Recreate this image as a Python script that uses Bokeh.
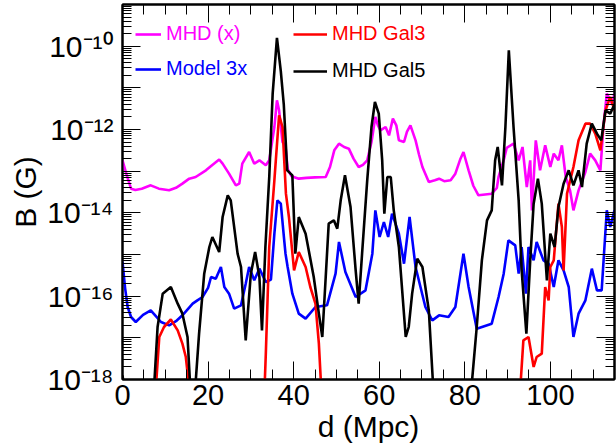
from bokeh.plotting import figure
from bokeh.models import Range1d, FixedTicker, LinearAxis, LogAxis, Legend, LegendItem
from bokeh.embed import file_html
from bokeh.resources import INLINE

FONT = "Liberation Sans"

# ---------------- data (d in Mpc, values are log10 of B in Gauss) ----------------
mhd_x_d = [0, 1, 2, 3, 4.5, 6.6, 8.5, 10.9, 12.5, 14, 15.6, 17.1, 19.5, 21, 22.6, 23.4, 24.9,
           26.5, 27.3, 28, 29.6, 30.8, 32, 33.5, 34.3, 35.5, 36.1, 36.6, 37.4, 38.1, 38.6,
           39.5, 41.2, 43, 45, 47.5, 48.5, 49.5, 50.6, 51.8, 52.9, 54, 55.2, 56.2, 57.2, 58.2,
           59.1, 59.7, 60.3, 61.5, 62.3, 63.2, 64, 64.6, 65.8, 66.5, 67.3, 68.5, 69.3, 70.1,
           71.6, 73, 74, 75.2, 76.7, 77.8, 79, 79.7, 80.9, 82, 83.2, 86.3, 87.5, 87.9, 89.2,
           89.8, 91.4, 92.6, 93.5, 94.5, 95.3, 95.7, 96.6, 97.6, 98.8, 100, 100.8, 101.9,
           102.7, 103.6, 104.6, 105.4, 106.6, 108.2, 109.3, 110.5, 111.7, 112.4, 113.2,
           114.4, 115]
mhd_x_logB = [-12.74, -13.1, -13.42, -13.45, -13.42, -13.34, -13.42, -13.46, -13.40, -13.3,
              -13.18, -13.14, -12.98, -12.85, -12.72, -12.82, -13.06, -13.34, -13.30, -12.82,
              -12.54, -12.82, -12.74, -12.86, -12.74, -11.94, -11.3, -11.54, -12.3, -12.4,
              -12.95, -13.12, -13.18, -13.16, -13.15, -13.14, -12.9, -12.5, -12.34, -12.42,
              -12.46, -12.7, -12.9, -12.85, -12.74, -12.3, -11.7, -11.9, -12.02, -11.94,
              -12.14, -11.74, -11.9, -12.26, -12.3, -12.05, -11.9, -12.26, -12.6, -12.9,
              -13.26, -13.22, -13.18, -13.24, -13.22, -13.06, -12.7, -12.54, -12.98, -13.35,
              -13.58, -13.54, -13.4, -13.14, -12.7, -12.44, -12.34, -12.74, -12.42, -13.38,
              -12.74, -13.94, -12.26, -12.98, -12.38, -12.9, -12.58, -12.74, -12.38, -13.14,
              -13.46, -13.94, -13.46, -13.02, -12.58, -12.74, -12.98, -11.94, -11.14, -11.38,
              -11.14]

model3x_d = [0, 0.6, 1.2, 2, 3.1, 4.8, 6.6, 7.8, 9, 10.9, 12.5, 14, 16.4, 17.5, 18.7, 20,
             20.7, 21.8, 23, 23.8, 24.9, 26.1, 27.7, 28.8, 29.6, 30.8, 32, 33.5, 34.7, 35.5,
             36.2, 37, 37.8, 38.1, 38.6, 39.7, 41.2, 42.8, 45.1, 47.8, 49.8, 50.6, 52.1,
             54.5, 56.8, 58.4, 59.1, 60.1, 61.1, 62.1, 63, 64.6, 65.8, 67.1, 68.5, 70.8,
             72.4, 74, 76.2, 77.8, 79.7, 80.9, 82.8, 86.3, 87.9, 89.1, 90.2, 91.8, 92.6,
             93.3, 94.3, 94.9, 96.1, 96.8, 98.4, 99.6, 100.8, 101.9, 103.1, 104.3, 105.4,
             106.6, 108.2, 109.7, 110.9, 112, 113.2, 114, 115]
model3x_logB = [-15.18, -15.8, -16.26, -16.5, -16.62, -16.45, -16.34, -16.48, -16.62, -16.7,
                -16.6, -16.46, -16.18, -16.1, -16.02, -15.8, -15.54, -15.58, -15.3, -15.78,
                -15.94, -16.3, -16.22, -15.7, -15.3, -15.62, -15.34, -15.66, -15.6, -14.5,
                -13.7, -13.78, -14.66, -14.98, -15.3, -15.94, -16.42, -16.54, -16.26, -16.22,
                -15.46, -14.7, -15.42, -16.02, -15.86, -14.98, -13.94, -14.58, -14.22, -14.58,
                -14.02, -14.5, -15.22, -14.1, -15.3, -16.26, -16.58, -16.46, -16.5, -16.26,
                -14.98, -15.78, -16.78, -16.66, -16.02, -15.46, -14.66, -14.78, -15.46, -14.82,
                -15.94, -14.82, -15.14, -14.7, -15.14, -15.22, -15.78, -15.14, -15.38, -15.78,
                -16.98, -16.42, -16.1, -15.34, -15.86, -15.86, -13.94, -14.34, -13.94]

gal3_d = [7.6, 8.6, 9.7, 11.3, 12.9, 14, 14.8, 15.9, 33.1, 33.5, 34.3, 35.5, 36.6, 37.4,
          38.2, 38.9, 40.1, 41.2, 42.8, 43.9, 45.1, 45.9, 46.6, 92.8, 93.7, 94.9, 96.1,
          96.8, 98, 98.8, 99.6, 100, 100.8, 101.9, 102.7, 103.1, 103.9, 105.4, 106.6,
          108.2, 109.3, 110.5, 111.7, 112.9, 114, 115]
gal3_logB = [-18.5, -16.98, -16.74, -16.56, -16.82, -17.14, -17.46, -18.5, -18.5, -17.38,
             -14.82, -13.22, -11.66, -11.94, -13.54, -14.1, -15.38, -14.94, -15.3, -15.78,
             -16.18, -17.14, -18.5, -18.5, -17.06, -16.98, -17.7, -17.46, -17.38, -15.78,
             -16.1, -15.3, -15.14, -13.78, -14.34, -15.38, -13.54, -12.9, -12.26, -11.86,
             -11.86, -12.1, -12.5, -11.54, -11.22, -11.54]

gal5_d = [0, 0.8, 7.2, 8.2, 9.4, 11.3, 12.9, 14, 15.2, 16.0, 16.8, 17.9, 19.1, 20.3, 21,
          22.6, 23.4, 24.6, 25.3, 26.9, 27.7, 28.8, 30, 31, 32, 32.6, 33.4, 34.3, 35.1,
          36.1, 37.0, 37.7, 38.5, 39.7, 40.4, 41.2, 42.8, 44.7, 45.9, 46.7, 47.5, 48.2,
          49.4, 50.2, 51, 52, 53.3, 54.5, 55.2, 56, 57.2, 58.2, 59, 59.9, 60.7, 61.2, 61.9,
          62.7, 63.4, 64.6, 66.2, 66.9, 67.7, 68.9, 70.1, 71.6, 72.8, 81.3, 82.8, 84, 85.2,
          86.3, 87.1, 87.7, 88.7, 89.5, 90.3, 91.4, 92.6, 93.3, 94.4, 95.3, 96.1, 97.1, 98,
          99.2, 100, 101, 101.9, 103.1, 104.3, 105.4, 106.6, 107.4, 108.5, 109.7, 110.9,
          111.9, 112.9, 114, 115]
gal5_logB = [-17.9, -18.5, -18.5, -16.74, -15.94, -15.78, -16.18, -16.42, -16.98, -18.5,
             -18.5, -16.9, -15.46, -14.82, -14.58, -14.94, -14.1, -13.58, -13.7, -14.98,
             -15.3, -17.06, -15.46, -14.94, -15.54, -16.82, -14.82, -13.14, -11.14, -9.8,
             -10.6, -11.4, -12.98, -13.1, -14.98, -14.1, -14.5, -15.54, -16.42, -16.98,
             -15.54, -14.26, -14.18, -14.38, -13.7, -13.1, -13.86, -15.38, -16.18, -14.98,
             -13.22, -11.94, -11.34, -11.62, -12.74, -14.02, -13.14, -13.14, -13.94, -14.82,
             -16.98, -16.74, -15.94, -15.1, -15.3, -16.34, -18.5, -18.5, -16.74, -15.14,
             -14.18, -13.94, -12.74, -12.42, -13.34, -11.94, -10.1, -11.94, -13.7, -15.38,
             -16.9, -15.14, -13.78, -13.18, -13.78, -15.62, -14.5, -14.82, -13.86, -13.3,
             -12.98, -13.34, -12.98, -13.38, -12.34, -11.86, -12.1, -12.26, -11.54, -11.62,
             -11.4]

series_names = ["MHD (x)", "Model 3x", "MHD Gal3", "MHD Gal5"]
series_colors = ["#ff00ff", "#0000ff", "#ff0000", "#000000"]

x_major = [0, 20, 40, 60, 80, 100]
x_minor = [5, 10, 15, 25, 30, 35, 45, 50, 55, 65, 70, 75, 85, 90, 95, 105, 110, 115]
y_decades = [1e-18, 1e-17, 1e-16, 1e-15, 1e-14, 1e-13, 1e-12, 1e-11, 1e-10, 1e-9]
y_labels = ["10⁻¹⁸", "", "10⁻¹⁶", "", "10⁻¹⁴", "", "10⁻¹²", "", "10⁻¹⁰", ""]
y_minor = [m * d for d in y_decades[:-1] for m in (2, 3, 4, 5, 6, 7, 8, 9)]


def to_B(logs):
    return [10.0 ** v for v in logs]


p = figure(width=616, height=448, x_range=Range1d(0, 115), y_range=Range1d(1e-18, 1e-9),
           y_axis_type="log", output_backend="svg", toolbar_location=None,
           min_border_left=122, min_border_right=2, min_border_top=4, min_border_bottom=69)
p.xgrid.visible = False
p.ygrid.visible = False
p.outline_line_color = "black"
p.outline_line_width = 2
p.background_fill_color = "white"
p.border_fill_color = "white"

xt = FixedTicker(ticks=x_major, minor_ticks=x_minor)
yt = FixedTicker(ticks=y_decades, minor_ticks=y_minor)

# bottom axis
xa = p.xaxis[0]
xa.ticker = xt
xa.axis_label = "d (Mpc)"
xa.axis_label_standoff = 2
xa.major_label_text_font_size = "29px"
xa.major_label_standoff = 5
# left axis
ya = p.yaxis[0]
ya.ticker = yt
ya.major_label_overrides = {d: s for d, s in zip(y_decades, y_labels)}
ya.axis_label = "B (G)"
ya.axis_label_standoff = 2
ya.major_label_text_font_size = "30px"
ya.major_label_standoff = 9
for ax in (xa, ya):
    ax.axis_label_text_font = FONT
    ax.axis_label_text_font_size = "30px"
    ax.axis_label_text_font_style = "normal"
    ax.axis_label_text_color = "black"
    ax.major_label_text_font = FONT
    ax.major_label_text_color = "black"

top = LinearAxis(ticker=xt, major_label_overrides={v: "" for v in x_major})
right = LogAxis(ticker=yt, major_label_overrides={d: "" for d in y_decades})
p.add_layout(top, "above")
p.add_layout(right, "right")

for ax, major_len, minor_len in ((xa, 18, 10), (top, 18, 10), (ya, 18, 9), (right, 18, 9)):
    ax.major_tick_in = major_len
    ax.major_tick_out = 0
    ax.minor_tick_in = minor_len
    ax.minor_tick_out = 0
    ax.axis_line_width = 2
    ax.axis_line_color = "black"
    ax.major_tick_line_width = 1
    ax.minor_tick_line_width = 1
    ax.major_tick_line_color = "black"
    ax.minor_tick_line_color = "black"
for ax in (top, right):
    ax.major_label_text_font_size = "0px"
    ax.major_label_standoff = 0

xs = [mhd_x_d, model3x_d, gal3_d, gal5_d]
ys = [mhd_x_logB, model3x_logB, gal3_logB, gal5_logB]
renderers = []
for xv, lv, c in zip(xs, ys, series_colors):
    r = p.line(xv, to_B(lv), line_color=c, line_width=2.6)
    renderers.append(r)

legend_pos = [(13, 334, 26), (13, 299, 26), (171, 334, 34), (171, 297, 34)]
for name, c, r, (lx, ly, gw) in zip(series_names, series_colors, renderers, legend_pos):
    lg = Legend(items=[LegendItem(label=name, renderers=[r])], location=(lx, ly),
                label_text_color=c, label_text_font=FONT, label_text_font_size="20px",
                glyph_width=gw, glyph_height=20, label_standoff=5, padding=0, margin=0,
                spacing=0, border_line_color=None, background_fill_alpha=0)
    p.add_layout(lg)

open("out.html", "w").write(file_html(p, INLINE))
